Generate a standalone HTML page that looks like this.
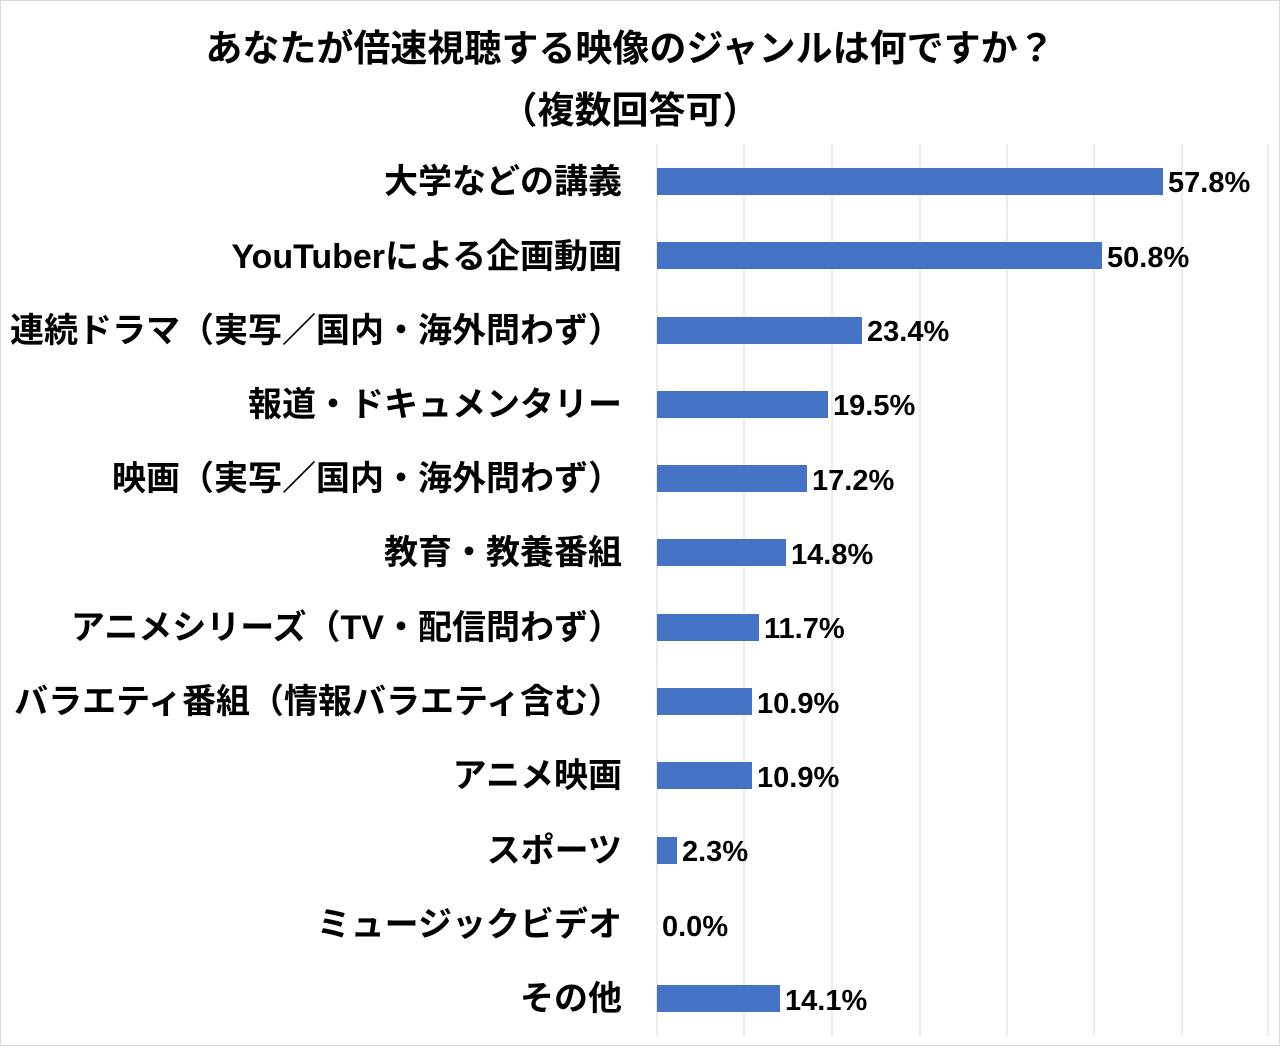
<!DOCTYPE html>
<html><head><meta charset="utf-8"><style>
body{margin:0;background:#fff;}
svg text{font-family:"Liberation Sans","Noto Sans CJK JP",sans-serif;font-weight:bold;fill:#000;}
</style></head><body>
<svg width="1280" height="1046" xmlns="http://www.w3.org/2000/svg">
<rect x="0.5" y="0.5" width="1279" height="1045" fill="#fff" stroke="#d9d9d9"/>
<text x="630" y="61" font-size="37" text-anchor="middle">あなたが倍速視聴する映像のジャンルは何ですか？</text>
<text x="630" y="123" font-size="37" text-anchor="middle">（複数回答可）</text>
<g stroke="#d9d9d9" stroke-width="1">
<line x1="744" y1="144" x2="744" y2="1036"/><line x1="832" y1="144" x2="832" y2="1036"/>
<line x1="920" y1="144" x2="920" y2="1036"/><line x1="1007" y1="144" x2="1007" y2="1036"/>
<line x1="1094" y1="144" x2="1094" y2="1036"/><line x1="1182" y1="144" x2="1182" y2="1036"/>
<line x1="1268" y1="144" x2="1268" y2="1036"/><line x1="657" y1="144" x2="657" y2="1036"/>
</g>
<g fill="#4472c4">
<rect x="657" y="168" width="506" height="27"/>
<rect x="657" y="242" width="445" height="27"/>
<rect x="657" y="317" width="205" height="27"/>
<rect x="657" y="391" width="171" height="27"/>
<rect x="657" y="465" width="150" height="27"/>
<rect x="657" y="539" width="129" height="27"/>
<rect x="657" y="614" width="102" height="27"/>
<rect x="657" y="688" width="95" height="27"/>
<rect x="657" y="762" width="95" height="27"/>
<rect x="657" y="837" width="20" height="27"/>
<rect x="657" y="985" width="123" height="27"/>
</g>
<g font-size="29">
<text x="1168" y="192">57.8%</text>
<text x="1107" y="267">50.8%</text>
<text x="867" y="341">23.4%</text>
<text x="833" y="415">19.5%</text>
<text x="812" y="490">17.2%</text>
<text x="791" y="564">14.8%</text>
<text x="764" y="638">11.7%</text>
<text x="757" y="713">10.9%</text>
<text x="757" y="787">10.9%</text>
<text x="682" y="861">2.3%</text>
<text x="662" y="936">0.0%</text>
<text x="785" y="1010">14.1%</text>
</g>
<g font-size="34" text-anchor="end">
<text x="622" y="193">大学などの講義</text>
<text x="622" y="268">YouTuberによる企画動画</text>
<text x="622" y="342">連続ドラマ（実写／国内・海外問わず）</text>
<text x="622" y="416">報道・ドキュメンタリー</text>
<text x="622" y="490">映画（実写／国内・海外問わず）</text>
<text x="622" y="564">教育・教養番組</text>
<text x="622" y="639">アニメシリーズ（TV・配信問わず）</text>
<text x="622" y="713">バラエティ番組（情報バラエティ含む）</text>
<text x="622" y="787">アニメ映画</text>
<text x="622" y="862">スポーツ</text>
<text x="622" y="936">ミュージックビデオ</text>
<text x="622" y="1010">その他</text>
</g>
</svg>
</body></html>
